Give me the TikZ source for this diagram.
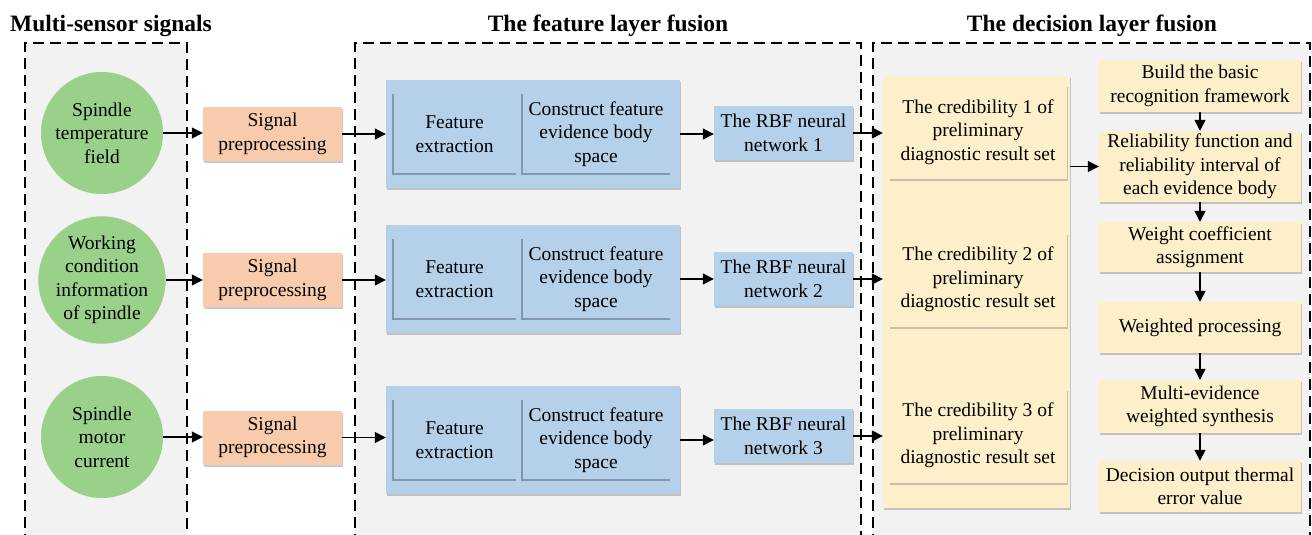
\documentclass[tikz,border=0pt]{standalone}
\usepackage{fontspec}
\setmainfont{Liberation Serif}
\usetikzlibrary{arrows.meta,shadows}
\definecolor{panelgray}{HTML}{F2F2F2}
\definecolor{sgreen}{HTML}{9AD18A}
\definecolor{sorange}{HTML}{F9CBAD}
\definecolor{sblue}{HTML}{B5D0E9}
\definecolor{syellow}{HTML}{FCEFC9}
\definecolor{edgeblue}{HTML}{8297AD}
\begin{document}
\begin{tikzpicture}[x=1pt,y=-1pt,
  txt/.style={font=\fontsize{19.5}{23.5}\selectfont, align=center, inner sep=0pt},
  ttl/.style={font=\fontsize{23.5}{27}\selectfont\bfseries, inner sep=0pt},
  sensor/.style={txt, circle, fill=sgreen, minimum size=122pt},
  boxshadow/.style={drop shadow={shadow xshift=0.6pt, shadow yshift=-2.2pt, opacity=0.35, fill=black!60}},
  prep/.style={txt, rectangle, fill=sorange, minimum width=139pt, minimum height=54pt, boxshadow},
  group/.style={rectangle, fill=sblue, minimum width=294pt, minimum height=108pt, boxshadow},
  innerbox/.style={txt, rectangle, fill=sblue, minimum height=80pt},
  rbf/.style={txt, rectangle, fill=sblue, minimum width=139pt, minimum height=54pt, boxshadow},
  credbg/.style={rectangle, fill=syellow, minimum width=187pt, minimum height=432pt, boxshadow},
  cred/.style={txt, rectangle, fill=syellow, minimum width=178pt, minimum height=94pt, boxshadow},
  dbox/.style={txt, rectangle, fill=syellow, minimum width=202pt, boxshadow},
  arr/.style={-{Triangle[length=11pt,width=11pt]}, line width=1.3pt},
  panel/.style={dash pattern=on 11pt off 6pt, line width=1.5pt},
  inneredge/.style={draw=edgeblue, line width=2pt}
]
\useasboundingbox (0,0) rectangle (1312,535);
\begin{scope}
  \clip (0,0) rectangle (1312,535);
  \fill[panelgray] (25,43) rectangle (187,545);
  \draw[panel] (25,545) -- (25,43) -- (187,43) -- (187,545);
  \fill[panelgray] (355,43) rectangle (861,545);
  \draw[panel] (355,545) -- (355,43) -- (861,43) -- (861,545);
  \fill[panelgray] (873,43) rectangle (1310,545);
  \draw[panel] (873,545) -- (873,43) -- (1310,43) -- (1310,545);
\end{scope}

% titles
\node[ttl] (t1) at (111,26) {Multi-sensor signals};
\node[ttl] (t2) at (608,26) {The feature layer fusion};
\node[ttl] (t3) at (1092,26) {The decision layer fusion};

% sensors
\node[sensor] (c1) at (102,133) {Spindle\\temperature\\field};
\node[sensor] (c2) at (102,280) {Working\\condition\\information\\of spindle};
\node[sensor] (c3) at (102,437) {Spindle\\motor\\current};

% preprocessing
\node[prep] (s1) at (272.5,134) {Signal\\preprocessing};
\node[prep] (s2) at (272.5,280) {Signal\\preprocessing};
\node[prep] (s3) at (272.5,437.5) {Signal\\preprocessing};

% feature groups
\foreach \i/\y in {1/134,2/279,3/440}{
  \node[group] (g\i) at (533,\y) {};
  \node[innerbox, minimum width=123pt] (fe\i) at (454.5,\y) {Feature\\extraction};
  \node[innerbox, minimum width=148pt] (cf\i) at (596,\y) {Construct feature\\evidence body\\space};
  \draw[inneredge] (fe\i.north west) -- (fe\i.south west) -- (fe\i.south east);
  \draw[inneredge] (cf\i.north west) -- (cf\i.south west) -- (cf\i.south east);
}

% RBF
\node[rbf] (r1) at (783.5,133) {The RBF neural\\network 1};
\node[rbf] (r2) at (783.5,279) {The RBF neural\\network 2};
\node[rbf] (r3) at (783.5,436) {The RBF neural\\network 3};

% decision layer
\node[credbg] (cbg) at (976.5,292) {};
\node[cred] (cr1) at (978,132) {The credibility 1 of\\preliminary\\diagnostic result set};
\node[cred] (cr2) at (978,279.5) {The credibility 2 of\\preliminary\\diagnostic result set};
\node[cred] (cr3) at (978,435.5) {The credibility 3 of\\preliminary\\diagnostic result set};

\node[dbox, minimum height=52pt] (d1) at (1200,86) {Build the basic\\recognition framework};
\node[dbox, minimum height=71pt] (d2) at (1200,166.5) {Reliability function and\\reliability interval of\\each evidence body};
\node[dbox, minimum height=50pt] (d3) at (1200,247) {Weight coefficient\\assignment};
\node[dbox, minimum height=51pt] (d4) at (1200,327.5) {Weighted processing};
\node[dbox, minimum height=53pt] (d5) at (1200,406.5) {Multi-evidence\\weighted synthesis};
\node[dbox, minimum height=51pt] (d6) at (1200,486.5) {Decision output thermal\\error value};

% connectors
\foreach \i in {1,2,3}{
  \draw[arr] (c\i.east) -- (c\i.east -| s\i.west);
  \draw[arr] (s\i.east) -- (s\i.east -| g\i.west);
  \draw[arr] (g\i.east) -- (g\i.east -| r\i.west);
  \draw[arr] (r\i.east) -- (r\i.east -| cbg.west);
}
\draw[arr] (d2.west -| cbg.east) -- (d2.west);
\draw[arr] (d1) -- (d2);
\draw[arr] (d2) -- (d3);
\draw[arr] (d3) -- (d4);
\draw[arr] (d4) -- (d5);
\draw[arr] (d5) -- (d6);
\end{tikzpicture}
\end{document}
